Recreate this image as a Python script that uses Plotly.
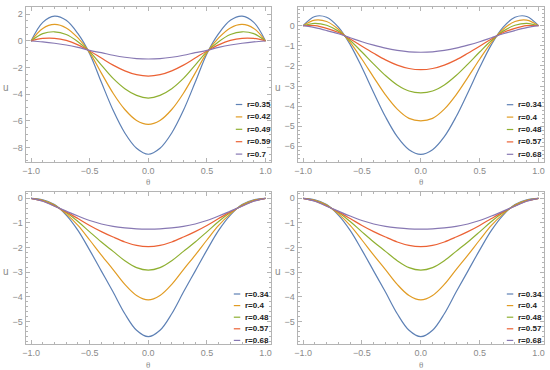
import plotly.graph_objects as go

theta = [-1.0, -0.9, -0.8, -0.7, -0.6, -0.5, -0.4, -0.3, -0.2, -0.1, 0.0,
         0.1, 0.2, 0.3, 0.4, 0.5, 0.6, 0.7, 0.8, 0.9, 1.0]

# Panel 1 (top-left)
p1_labels = ["r=0.35", "r=0.42", "r=0.49", "r=0.59", "r=0.7"]
p1_a = [0, 1.40, 1.87, 1.55, 0.55, -0.95, -3.10, -5.20, -6.90, -8.05, -8.50,
        -8.05, -6.90, -5.20, -3.10, -0.95, 0.55, 1.55, 1.87, 1.40, 0]
p1_b = [0, 0.94, 1.24, 0.98, 0.23, -0.87, -2.41, -3.92, -5.14, -5.96, -6.25,
        -5.96, -5.14, -3.92, -2.41, -0.87, 0.23, 0.98, 1.24, 0.94, 0]
p1_c = [0, 0.55, 0.69, 0.49, -0.05, -0.80, -1.81, -2.81, -3.58, -4.08, -4.28,
        -4.08, -3.58, -2.81, -1.81, -0.80, -0.05, 0.49, 0.69, 0.55, 0]
p1_d = [0, 0.19, 0.20, 0.04, -0.29, -0.75, -1.28, -1.81, -2.24, -2.53, -2.64,
        -2.53, -2.24, -1.81, -1.28, -0.75, -0.29, 0.04, 0.20, 0.19, 0]
p1_e = [0, -0.07, -0.17, -0.30, -0.48, -0.70, -0.88, -1.07, -1.22, -1.32, -1.35,
        -1.32, -1.22, -1.07, -0.88, -0.70, -0.48, -0.30, -0.17, -0.07, 0]

# Panel 2 (top-right)
p2_labels = ["r=0.34", "r=0.4", "r=0.48", "r=0.57", "r=0.68"]
p2_a = [0, 0.46, 0.42, -0.07, -0.94, -2.08, -3.33, -4.53, -5.52, -6.17, -6.40,
        -6.17, -5.52, -4.53, -3.33, -2.08, -0.94, -0.07, 0.42, 0.46, 0]
p2_b = [0, 0.28, 0.21, -0.18, -0.83, -1.67, -2.57, -3.44, -4.15, -4.61, -4.73,
        -4.61, -4.15, -3.44, -2.57, -1.67, -0.83, -0.18, 0.21, 0.28, 0]
p2_c = [0, 0.12, 0.02, -0.27, -0.74, -1.31, -1.91, -2.48, -2.95, -3.25, -3.34,
        -3.25, -2.95, -2.48, -1.91, -1.31, -0.74, -0.27, 0.02, 0.12, 0]
p2_d = [0, 0.0, -0.13, -0.34, -0.66, -1.02, -1.37, -1.70, -1.96, -2.13, -2.19,
        -2.13, -1.96, -1.70, -1.37, -1.02, -0.66, -0.34, -0.13, 0.0, 0]
p2_e = [0, -0.10, -0.24, -0.40, -0.60, -0.80, -0.97, -1.12, -1.23, -1.30, -1.32,
        -1.30, -1.23, -1.12, -0.97, -0.80, -0.60, -0.40, -0.24, -0.10, 0]

# Panels 3 and 4 (bottom)
p3_labels = ["r=0.34", "r=0.4", "r=0.48", "r=0.57", "r=0.68"]
p3_a = [0, -0.06, -0.25, -0.68, -1.30, -2.10, -2.95, -3.80, -4.68, -5.35, -5.61,
        -5.35, -4.68, -3.80, -2.95, -2.10, -1.30, -0.68, -0.25, -0.06, 0]
p3_b = [0, -0.08, -0.27, -0.63, -1.10, -1.69, -2.30, -2.89, -3.49, -3.94, -4.12,
        -3.94, -3.49, -2.89, -2.30, -1.69, -1.10, -0.63, -0.27, -0.08, 0]
p3_c = [0, -0.10, -0.29, -0.58, -0.94, -1.36, -1.77, -2.15, -2.53, -2.81, -2.91,
        -2.81, -2.53, -2.15, -1.77, -1.36, -0.94, -0.58, -0.29, -0.10, 0]
p3_d = [0, -0.11, -0.31, -0.55, -0.82, -1.10, -1.35, -1.57, -1.77, -1.91, -1.96,
        -1.91, -1.77, -1.57, -1.35, -1.10, -0.82, -0.55, -0.31, -0.11, 0]
p3_e = [0, -0.12, -0.32, -0.52, -0.72, -0.90, -1.04, -1.14, -1.20, -1.24, -1.25,
        -1.24, -1.20, -1.14, -1.04, -0.90, -0.72, -0.52, -0.32, -0.12, 0]

x_ticks = [-1.0, -0.5, 0.0, 0.5, 1.0]
p1_yticks = [2, 0, -2, -4, -6, -8]
p2_yticks = [0, -1, -2, -3, -4, -5, -6]
p3_yticks = [0, -1, -2, -3, -4, -5]

colors = ["#5E81B5", "#E19C24", "#8FB032", "#EB6235", "#8778B3"]

W, H = 550, 370
panels = [
    dict(series=[p1_a, p1_b, p1_c, p1_d, p1_e], labels=p1_labels, yticks=p1_yticks,
         xdom=[22.7, 270.0], ydom=[7.0, 162.0], yrange=[-9.08, 2.55], yminor=0.5,
         leg=dict(x0=234.5, y0=104.5, dy=12.4), theta_y=182.0),
    dict(series=[p2_a, p2_b, p2_c, p2_d, p2_e], labels=p2_labels, yticks=p2_yticks,
         xdom=[296.7, 545.0], ydom=[7.0, 162.0], yrange=[-6.78, 0.93], yminor=0.2,
         leg=dict(x0=507.5, y0=104.7, dy=12.4), theta_y=182.0),
    dict(series=[p3_a, p3_b, p3_c, p3_d, p3_e], labels=p3_labels, yticks=p3_yticks,
         xdom=[22.7, 270.0], ydom=[192.3, 344.0], yrange=[-5.905, 0.243], yminor=0.2,
         leg=dict(x0=232.5, y0=294.0, dy=11.6), theta_y=364.5),
    dict(series=[p3_a, p3_b, p3_c, p3_d, p3_e], labels=p3_labels, yticks=p3_yticks,
         xdom=[296.7, 545.0], ydom=[192.3, 344.0], yrange=[-5.905, 0.243], yminor=0.2,
         leg=dict(x0=507.5, y0=294.0, dy=11.6), theta_y=364.5),
]

fig = go.Figure()
layout = dict(width=W, height=H, autosize=False, margin=dict(l=0, r=0, t=0, b=0),
              paper_bgcolor="white", plot_bgcolor="white", showlegend=False)
shapes = []
annotations = []
frame_col = "#b4b4b4"
tick_font = dict(family="Liberation Sans", size=9, color="#8a8a8a")

for i, p in enumerate(panels):
    k = "" if i == 0 else str(i + 1)
    xa, ya = "x" + k, "y" + k
    for s, (vals, lab) in enumerate(zip(p["series"], p["labels"])):
        fig.add_trace(go.Scatter(x=theta, y=vals, mode="lines", name=lab,
                                 line=dict(color=colors[s], width=1.2, shape="spline", smoothing=1.0),
                                 xaxis=xa, yaxis=ya, hoverinfo="skip"))
    xd = [p["xdom"][0] / W, p["xdom"][1] / W]
    yd = [1 - p["ydom"][1] / H, 1 - p["ydom"][0] / H]
    layout["xaxis" + k] = dict(domain=xd, range=[-1.047, 1.047], anchor=ya,
                               tickvals=x_ticks, ticktext=["\u22121.0", "\u22120.5", "0.0", "0.5", "1.0"],
                               showgrid=False, zeroline=False, showline=True, linecolor=frame_col,
                               linewidth=1, mirror="allticks", ticks="inside", ticklen=4,
                               tickcolor=frame_col, tickfont=tick_font,
                               minor=dict(dtick=0.1, tick0=0, ticks="inside", ticklen=2, tickcolor=frame_col))
    layout["yaxis" + k] = dict(domain=yd, range=p["yrange"], anchor=xa,
                               tickvals=p["yticks"], showgrid=False, zeroline=False, showline=True,
                               linecolor=frame_col, linewidth=1, mirror="allticks", ticks="inside",
                               ticklen=4, tickcolor=frame_col, tickfont=tick_font, tickformat="d",
                               minor=dict(dtick=p["yminor"], tick0=0, ticks="inside", ticklen=2,
                                          tickcolor=frame_col))
    # axis titles
    cx = (p["xdom"][0] + p["xdom"][1]) / 2
    annotations.append(dict(text="\u03b8", x=cx / W, y=1 - p["theta_y"] / H, xref="paper", yref="paper",
                            showarrow=False, font=dict(family="Liberation Serif", size=9, color="#8a8a8a"),
                            xanchor="center", yanchor="middle"))
    cy = (p["ydom"][0] + p["ydom"][1]) / 2 + 3
    annotations.append(dict(text="u", x=(p["xdom"][0] - 19.5) / W, y=1 - cy / H, xref="paper", yref="paper",
                            showarrow=False, font=dict(family="Liberation Sans", size=10, color="#8a8a8a"),
                            xanchor="center", yanchor="middle"))
    # legend
    lg = p["leg"]
    for s, lab in enumerate(p["labels"]):
        yy = lg["y0"] + s * lg["dy"]
        shapes.append(dict(type="line", xref="paper", yref="paper",
                           x0=lg["x0"] / W, x1=(lg["x0"] + 6.5) / W, y0=1 - yy / H, y1=1 - yy / H,
                           line=dict(color=colors[s], width=1.2)))
        annotations.append(dict(text=lab, x=(lg["x0"] + 9.5) / W, y=1 - yy / H, xref="paper", yref="paper",
                                showarrow=False, xanchor="left", yanchor="middle",
                                font=dict(family="Liberation Sans", size=8, color="#222", weight="bold")))

layout["shapes"] = shapes
layout["annotations"] = annotations
fig.update_layout(**layout)
fig.write_html("out.html", config=dict(displayModeBar=False, staticPlot=True),
               post_script="document.body.style.margin='0';document.body.style.overflow='hidden';")
